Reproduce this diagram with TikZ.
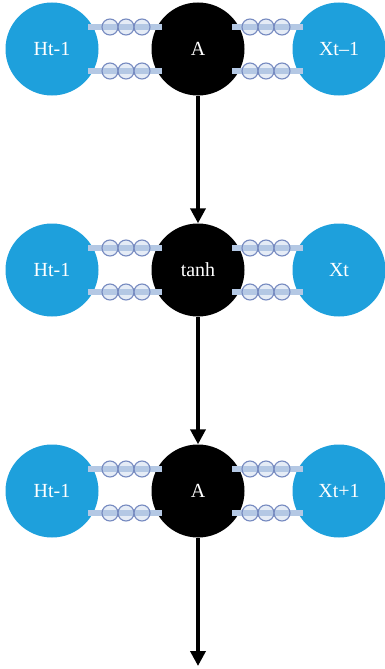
\documentclass[tikz,border=0pt]{standalone}
\usepackage{fontspec}
\setmainfont{Liberation Serif}
\usetikzlibrary{arrows.meta,calc}
\definecolor{cellblue}{RGB}{30,160,220}
\definecolor{linkbar}{RGB}{180,200,228}
\definecolor{linkring}{RGB}{118,138,192}
\tikzset{
  cell/.style={circle, inner sep=0pt, minimum size=93pt, text=white,
    font=\fontsize{20}{20}\selectfont},
  side/.style={cell, fill=cellblue},
  gate/.style={cell, fill=black},
  bar/.style={linkbar, line width=6pt},
  ring/.style={circle, draw=linkring, fill=linkbar, fill opacity=.35,
    line width=1.1pt, minimum size=16pt, inner sep=0pt},
  flow/.style={->, line width=3.6pt}
}
\begin{document}
\begin{tikzpicture}[x=1pt, y=-1pt, >={Triangle[length=15pt,width=15pt]}]
 \useasboundingbox (0,0) rectangle (384,669);
 % three cells, one row each
 \foreach \y/\g/\r [count=\i] in {49/A/Xt--1, 270/tanh/Xt, 491/A/Xt+1}
 {
     \node[side] (h\i) at (52,\y) {Ht-1};
     \node[gate] (g\i) at (198,\y) {\g};
     \node[side] (x\i) at (339,\y) {\r};
     \foreach \d in {-22,22}
     {
         \draw[bar] ($(h\i)+(36,\d)$) -- ($(g\i)+(-36,\d)$);
         \draw[bar] ($(g\i)+(34,\d)$) -- ($(x\i)+(-36,\d)$);
         \foreach \k in {0,1,2}
         {
             \node[ring] at ($(h\i)+(58+16*\k,\d)$) {};
             \node[ring] at ($(g\i)+(52+16*\k,\d)$) {};
         }
     }
 }
 \coordinate (out) at (198,666);
 \draw[flow] (g1) -- (g2);
 \draw[flow] (g2) -- (g3);
 \draw[flow] (g3) -- (out);
\end{tikzpicture}
\end{document}
